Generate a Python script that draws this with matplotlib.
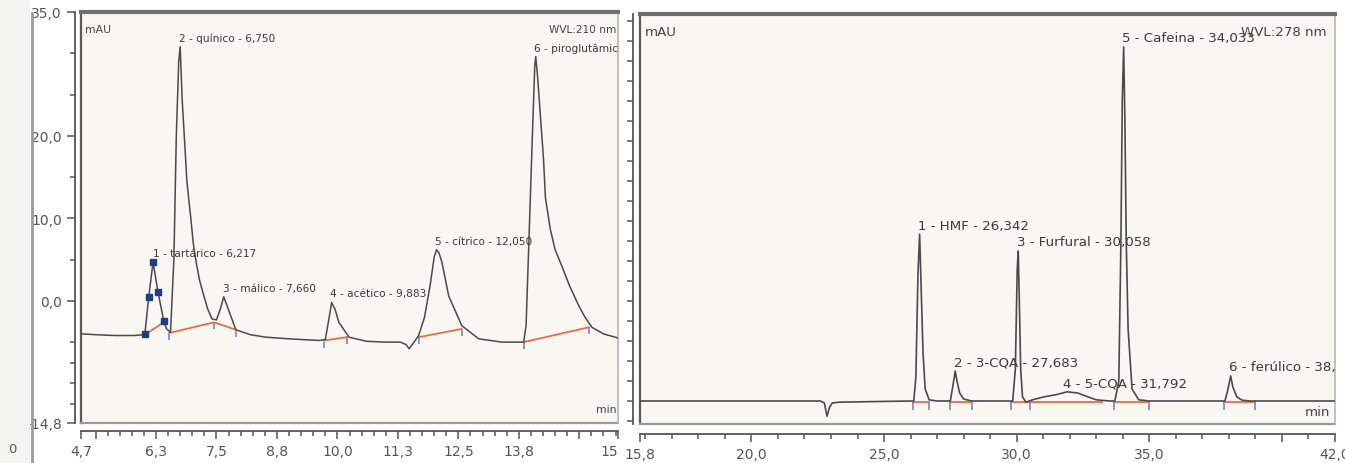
import matplotlib
matplotlib.use("Agg")
import matplotlib.pyplot as plt
from matplotlib.ticker import FixedLocator, NullFormatter
from matplotlib.lines import Line2D

# ---- left chromatogram (WVL 210 nm), retention time (min) vs mAU ----
left_t = [4.70, 5.00, 5.40, 5.80, 6.00, 6.02, 6.10, 6.19, 6.29, 6.41, 6.47, 6.55,
          6.62, 6.67, 6.72, 6.75, 6.79, 6.89, 6.97, 7.02, 7.08, 7.15, 7.24, 7.32, 7.41,
          7.50, 7.58, 7.65, 7.72, 7.90, 8.20, 8.52, 9.00, 9.62, 9.75, 9.83, 9.88, 9.95,
          10.03, 10.24, 10.60, 11.00, 11.30, 11.42, 11.48, 11.56, 11.68, 11.80, 11.92,
          12.00, 12.05, 12.10, 12.16, 12.30, 12.57, 12.92, 13.40, 13.85, 13.90, 13.96,
          14.03, 14.08, 14.10, 14.14, 14.26, 14.30, 14.40, 14.50, 14.64, 14.80, 14.99,
          15.12, 15.26, 15.50, 15.80]
left_y = [-4.0, -4.1, -4.2, -4.2, -4.1, -4.0, 0.5, 4.7, 1.1, -2.4, -3.4, -3.8,
          5.0, 20.0, 29.0, 30.8, 24.5, 14.4, 10.0, 7.0, 4.7, 2.5, 0.6, -1.0, -2.2,
          -2.3, -1.0, 0.5, -0.6, -3.5, -4.1, -4.4, -4.6, -4.8, -4.7, -2.0, -0.2, -1.0,
          -2.6, -4.4, -4.9, -5.0, -5.0, -5.3, -5.8, -5.2, -4.2, -2.0, 2.0,
          5.3, 6.2, 5.8, 4.7, 0.6, -3.0, -4.6, -5.0, -5.0, -3.0, 7.5,
          20.0, 28.5, 29.6, 27.0, 17.2, 12.5, 8.7, 6.2, 4.2, 1.8, -0.6,
          -2.0, -3.2, -4.0, -4.5]

# blue points on peak 1
left_sq_t = [6.02, 6.10, 6.19, 6.29, 6.41]
left_sq_y = [-4.0, 0.5, 4.7, 1.1, -2.4]

# integration baselines (orange)
left_base_t = [[6.02, 6.41], [6.52, 7.45, 7.90], [9.72, 10.20], [11.68, 12.57], [13.85, 15.20]]
left_base_y = [[-4.1, -2.6], [-3.9, -2.6, -3.5], [-4.8, -4.4], [-4.4, -3.4], [-5.0, -3.2]]

left_names = ['1 - tartárico - 6,217', '2 - quínico - 6,750', '3 - málico - 7,660',
              '4 - acético - 9,883', '5 - cítrico - 12,050', '6 - piroglutâmico - 14,100']
left_peak_t = [6.217, 6.750, 7.660, 9.883, 12.050, 14.100]
left_peak_h = [4.7, 30.8, 0.5, -0.2, 6.2, 29.6]

left_xticks = [4.7, 5.0, 6.25, 7.5, 8.75, 10.0, 11.25, 12.5, 13.75, 15.0, 15.8]
left_xlabels = ['4,7', '', '6,3', '7,5', '8,8', '10,0', '11,3', '12,5', '13,8', '', '15']
left_yticks = [35.0, 20.0, 10.0, 0.0, -14.8]
left_ylabels = ['35,0', '20,0', '10,0', '0,0', '-14,8']

# ---- right chromatogram (WVL 278 nm) ----
right_t = [15.8, 22.60, 22.75, 22.85, 22.95, 23.05, 23.30, 25.00, 26.12, 26.20, 26.28,
           26.342, 26.40, 26.47, 26.55, 26.70, 27.00, 27.50, 27.60, 27.683, 27.75, 27.85,
           28.00, 28.30, 29.85, 29.95, 30.02, 30.058, 30.10, 30.15, 30.22, 30.35, 30.60,
           31.00, 31.50, 31.90, 32.30, 32.70, 33.00, 33.50, 33.70, 33.85, 33.93, 33.98,
           34.033, 34.08, 34.13, 34.20, 34.35, 34.60, 35.00, 37.85, 37.95, 38.067, 38.15,
           38.30, 38.50, 38.80, 42.0]
right_y = [0.0, 0.0, -0.5, -3.8, -1.5, -0.5, -0.3, -0.1, 0.0, 6.0, 32.0,
           41.7, 28.0, 12.0, 3.0, 0.3, 0.0, 0.0, 4.0, 7.5, 5.0, 2.0,
           0.5, 0.0, 0.0, 8.0, 33.0, 37.5, 25.0, 8.0, 1.0, -0.3, 0.3,
           1.0, 1.6, 2.3, 2.0, 1.0, 0.3, 0.0, 0.0, 5.0, 40.0, 75.0,
           88.5, 70.0, 40.0, 18.0, 3.0, 0.3, 0.0, 0.0, 2.5, 6.25, 3.5,
           1.0, 0.2, 0.0, 0.0]

right_base_t = [[26.10, 26.70], [27.50, 28.30], [29.80, 30.50, 33.20], [33.67, 35.00], [37.80, 39.00]]
right_marks = [26.10, 26.70, 27.50, 28.30, 29.80, 30.50, 33.67, 35.00, 37.80, 39.00]

right_names = ['1 - HMF - 26,342', '2 - 3-CQA - 27,683', '3 - Furfural - 30,058',
               '4 - 5-CQA - 31,792', '5 - Cafeina - 34,033', '6 - ferúlico - 38,067']
right_peak_t = [26.342, 27.683, 30.058, 31.792, 34.033, 38.067]
right_peak_h = [41.7, 7.5, 37.5, 2.3, 88.5, 6.25]

right_xticks = [15.8, 20.0, 25.0, 30.0, 35.0, 40.0, 42.0]
right_xlabels = ['15,8', '20,0', '25,0', '30,0', '35,0', '', '42,0']

bg = '#f8f7f2'
trace_c = '#4a4a4a'
base_c = '#ec6a43'
mark_c = '#7f7fc6'
tick_c = '#555555'

fig = plt.figure(figsize=(13.45, 4.64), dpi=100)
fig.patch.set_facecolor('white')

# thin strip and line at the far left (edge of a previous panel)
fig.patches.append(plt.Rectangle((0, 0), 0.022, 1, transform=fig.transFigure,
                                 facecolor='#f4f4ef', edgecolor='none', zorder=0))
fig.lines.append(Line2D([0.0235, 0.0235], [0, 0.97], transform=fig.transFigure,
                        color='#9c9c9c', lw=2))
fig.text(12 / 1345, 1 - 450 / 464, '0', fontsize=9.5, color='#555555', ha='center', va='center')

axL = fig.add_axes([81 / 1345, 1 - 424 / 464, 537 / 1345, 411 / 464])
axR = fig.add_axes([640 / 1345, 1 - 425 / 464, 695 / 1345, 410 / 464])


def frame(ax, yout, xout):
    ax.set_facecolor(bg)
    ax.spines['left'].set_position(('outward', yout))
    ax.spines['bottom'].set_position(('outward', xout))
    for s in ['left', 'bottom']:
        ax.spines[s].set_color(tick_c)
        ax.spines[s].set_linewidth(1.3)
    ax.spines['top'].set_color('#6f6f6f')
    ax.spines['top'].set_linewidth(3)
    ax.spines['right'].set_color('#b5b5b5')
    ax.spines['right'].set_linewidth(1.2)
    # the box's own left and bottom edges
    ax.plot([0, 0], [0, 1], transform=ax.transAxes, color='#5a5a5a', lw=1.6, clip_on=False)
    ax.plot([0, 1], [0, 0], transform=ax.transAxes, color='#9a9a9a', lw=1.6, clip_on=False)
    ax.tick_params(which='both', colors=tick_c, labelcolor='#555555', labelsize=10, width=1.1)
    ax.tick_params(which='major', length=6)
    ax.tick_params(which='minor', length=3.5)


# ---- left panel ----
frame(axL, 4.3, 5.8)
axL.plot(left_t, left_y, color=trace_c, lw=1.1, zorder=3)
for bt, by in zip(left_base_t, left_base_y):
    axL.plot(bt, by, color=base_c, lw=1.3, zorder=2)
for bt, by in zip(left_base_t[1:], left_base_y[1:]):
    axL.plot(bt, [v - 0.5 for v in by], ls='none', marker='|', ms=5, mew=1.2, color=mark_c, zorder=4)
axL.plot(left_sq_t, left_sq_y, ls='none', marker='s', ms=4.5, color='#1f3c88', zorder=5)
for name, t, h in zip(left_names, left_peak_t, left_peak_h):
    axL.annotate(name, xy=(t, h), xytext=(-1, 6.5), textcoords='offset points',
                 fontsize=7.6, color='#3a3a3a', ha='left', va='center', clip_on=True)

axL.set_xlim(4.7, 15.8)
axL.set_ylim(-14.8, 35.0)
axL.set_xticks(left_xticks)
axL.set_xticklabels(left_xlabels)
axL.get_xticklabels()[-1].set_horizontalalignment('right')
axL.xaxis.set_minor_locator(FixedLocator([5.0 + 0.25 * i for i in range(44)]))
axL.set_yticks(left_yticks)
axL.set_yticklabels(left_ylabels)
axL.yaxis.set_minor_locator(FixedLocator([30, 25, 15, 5, -5, -7.5, -10, -12.5]))
axL.text(0.008, 0.958, 'mAU', transform=axL.transAxes, fontsize=7.8, color='#444444', va='center')
axL.text(0.997, 0.959, 'WVL:210 nm', transform=axL.transAxes, fontsize=7.6, color='#444444',
         ha='right', va='center')
axL.text(0.997, 0.034, 'min', transform=axL.transAxes, fontsize=7.8, color='#444444',
         ha='right', va='center')

# ---- right panel ----
frame(axR, 5.0, 7.2)
axR.plot(right_t, right_y, color=trace_c, lw=1.2, zorder=3)
for bt in right_base_t:
    axR.plot(bt, [-0.3] * len(bt), color=base_c, lw=1.3, zorder=2)
axR.plot(right_marks, [-1.2] * len(right_marks), ls='none', marker='|', ms=6, mew=1.2,
         color=mark_c, zorder=4)
for name, t, h in zip(right_names, right_peak_t, right_peak_h):
    axR.annotate(name, xy=(t, h), xytext=(-1, 6.5), textcoords='offset points',
                 fontsize=9.6, color='#3a3a3a', ha='left', va='center', clip_on=True)

axR.set_xlim(15.8, 42.0)
axR.set_ylim(-5.75, 96.75)
axR.set_xticks(right_xticks)
axR.set_xticklabels(right_xlabels)
axR.xaxis.set_minor_locator(FixedLocator(list(range(16, 42))))
axR.yaxis.set_major_locator(FixedLocator([5 * i for i in range(-1, 20)]))
axR.yaxis.set_major_formatter(NullFormatter())
axR.tick_params(axis='y', which='major', length=4)
axR.text(0.007, 0.958, 'mAU', transform=axR.transAxes, fontsize=9.6, color='#444444', va='center')
axR.text(0.988, 0.958, 'WVL:278 nm', transform=axR.transAxes, fontsize=9.6, color='#444444',
         ha='right', va='center')
axR.text(0.993, 0.03, 'min', transform=axR.transAxes, fontsize=9.6, color='#444444',
         ha='right', va='center')

fig.savefig('out.png', dpi=100, facecolor='white')
